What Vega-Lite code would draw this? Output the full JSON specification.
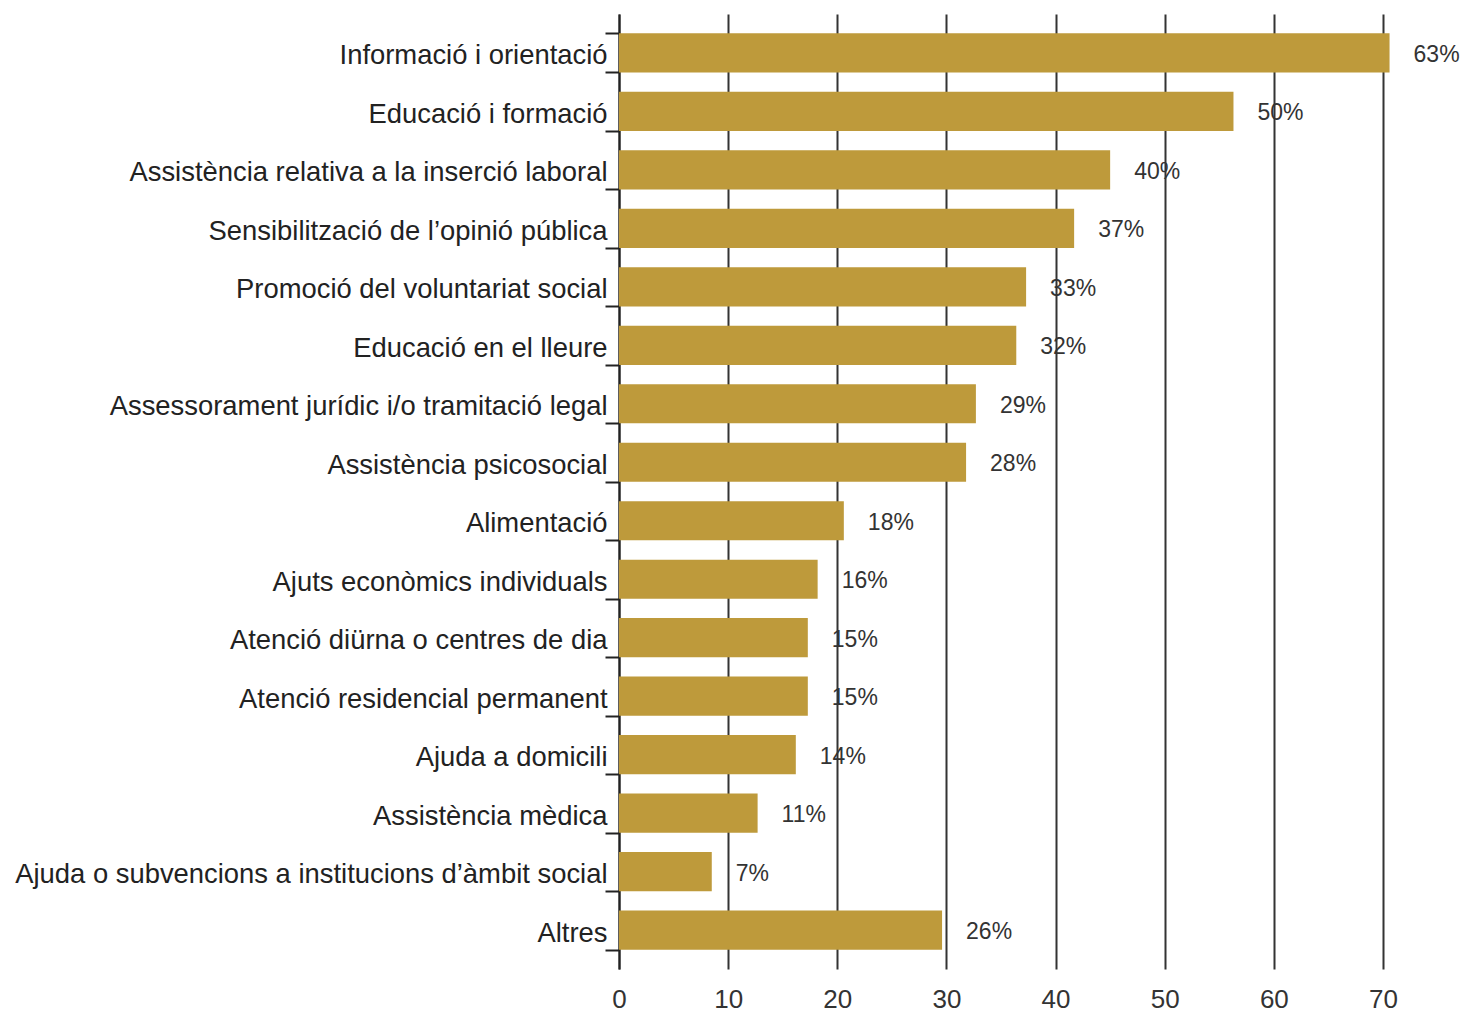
{
  "$schema": "https://vega.github.io/schema/vega-lite/v6.json",
  "autosize": {"type": "none"},
  "padding": {"left": 619, "top": 14, "right": 83, "bottom": 43},
  "width": 764,
  "height": 955,
  "background": "white",
  "data": {
    "values": [
      {"cat": "Informació i orientació", "value": 70.6, "label": "63%"},
      {"cat": "Educació i formació", "value": 56.3, "label": "50%"},
      {"cat": "Assistència relativa a la inserció laboral", "value": 45.0, "label": "40%"},
      {"cat": "Sensibilització de l’opinió pública", "value": 41.7, "label": "37%"},
      {"cat": "Promoció del voluntariat social", "value": 37.3, "label": "33%"},
      {"cat": "Educació en el lleure", "value": 36.4, "label": "32%"},
      {"cat": "Assessorament jurídic i/o tramitació legal", "value": 32.7, "label": "29%"},
      {"cat": "Assistència psicosocial", "value": 31.8, "label": "28%"},
      {"cat": "Alimentació", "value": 20.6, "label": "18%"},
      {"cat": "Ajuts econòmics individuals", "value": 18.2, "label": "16%"},
      {"cat": "Atenció diürna o centres de dia", "value": 17.3, "label": "15%"},
      {"cat": "Atenció residencial permanent", "value": 17.3, "label": "15%"},
      {"cat": "Ajuda a domicili", "value": 16.2, "label": "14%"},
      {"cat": "Assistència mèdica", "value": 12.7, "label": "11%"},
      {"cat": "Ajuda o subvencions a institucions d’àmbit social", "value": 8.5, "label": "7%"},
      {"cat": "Altres", "value": 29.6, "label": "26%"}
    ]
  },
  "encoding": {
    "y": {
      "field": "cat",
      "type": "nominal",
      "sort": null,
      "scale": {"paddingInner": 0.33, "paddingOuter": 0.33},
      "axis": {
        "title": null,
        "domain": true,
        "domainColor": "#222222",
        "domainWidth": 2,
        "ticks": true,
        "tickBand": "extent",
        "tickSize": 14,
        "tickColor": "#222222",
        "tickWidth": 2,
        "grid": false,
        "labelPadding": -2,
        "labelOffset": 3,
        "labelFont": "Liberation Sans",
        "labelFontSize": 27.4,
        "labelColor": "#222222",
        "labelLimit": 0
      }
    },
    "x": {
      "field": "value",
      "type": "quantitative",
      "scale": {"domain": [0, 70], "nice": false},
      "axis": {
        "title": null,
        "values": [0, 10, 20, 30, 40, 50, 60, 70],
        "domain": false,
        "ticks": false,
        "grid": true,
        "gridColor": "#333333",
        "gridWidth": 2,
        "gridOpacity": 1,
        "labelFlush": false,
        "labelPadding": 17,
        "labelFont": "Liberation Sans",
        "labelFontSize": 26,
        "labelColor": "#333333"
      }
    }
  },
  "layer": [
    {"mark": {"type": "bar", "color": "#BE9A3B"}},
    {
      "mark": {
        "type": "text",
        "align": "left",
        "baseline": "middle",
        "dx": 24,
        "dy": 2,
        "font": "Liberation Sans",
        "fontSize": 23,
        "color": "#333333"
      },
      "encoding": {"text": {"field": "label"}}
    }
  ],
  "config": {"view": {"stroke": null}}
}
